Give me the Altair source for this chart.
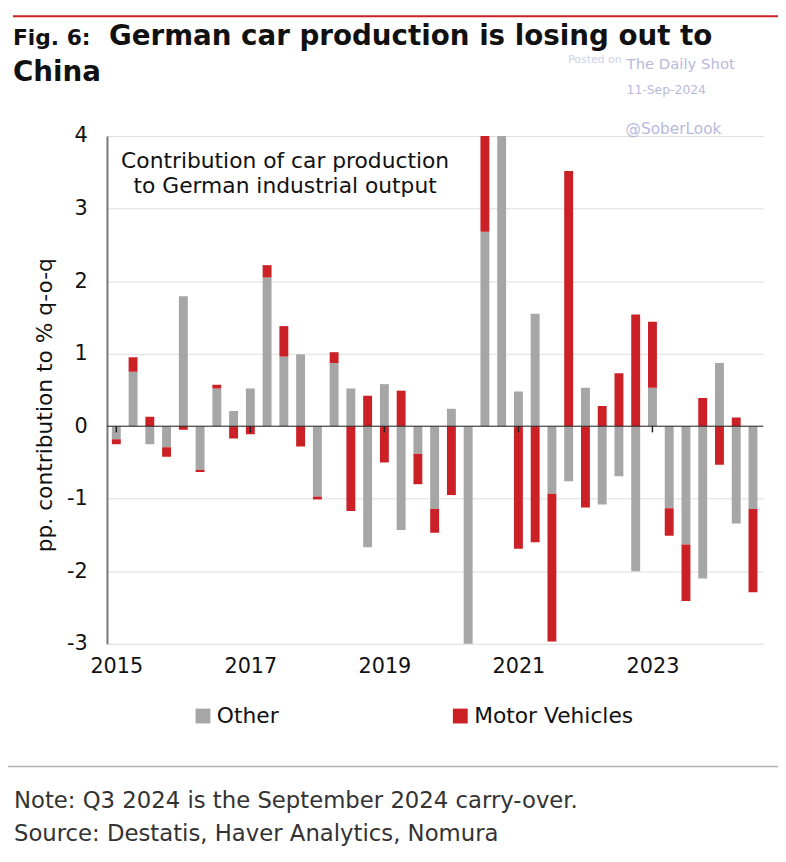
import altair as alt
import pandas as pd

# ---------------- data ----------------
years = [2015, 2016, 2017, 2018, 2019, 2020, 2021, 2022, 2023, 2024]
quarters_per_year = [4, 4, 4, 4, 4, 4, 4, 4, 4, 3]

other = [-0.18, 0.75, -0.25, -0.29,
         1.79, -0.60, 0.52, 0.21,
         0.52, 2.05, 0.96, 0.99,
         -0.97, 0.87, 0.52, -1.67,
         0.58, -1.43, -0.38, -1.14,
         0.24, -3.40, 2.68, 4.60,
         0.48, 1.55, -0.93, -0.76,
         0.53, -1.08, -0.69, -2.00,
         0.53, -1.13, -1.63, -2.10,
         0.87, -1.34, -1.14]

motor = [-0.07, 0.20, 0.13, -0.13,
         -0.05, -0.03, 0.05, -0.17,
         -0.11, 0.17, 0.42, -0.28,
         -0.04, 0.15, -1.17, 0.42,
         -0.50, 0.49, -0.42, -0.33,
         -0.95, -2.50, 3.00, 0.20,
         -1.69, -1.60, -2.04, 3.52,
         -1.12, 0.28, 0.73, 1.54,
         0.91, -0.38, -0.78, 0.39,
         -0.53, 0.12, -1.15]

series_names = ["Other", "Motor Vehicles"]
series_colors = ["#a6a6a6", "#cc2027"]
x_tick_years = [2015, 2017, 2019, 2021, 2023]
y_ticks = [-3, -2, -1, 0, 1, 2, 3, 4]

FONT = "DejaVu Sans"

# quarter positions (year + fraction)
t = []
for y, nq in zip(years, quarters_per_year):
    for q in range(nq):
        t.append(y + q / 4)

rows = []
for i, ti in enumerate(t):
    rows.append({"t": ti, "series": "Other", "value": other[i], "ord": 0})
    rows.append({"t": ti, "series": "Motor Vehicles", "value": motor[i], "ord": 1})
df = pd.DataFrame(rows)

one = pd.DataFrame({"k": [0]})

bars = alt.Chart(df).mark_bar(size=9, clip=True).encode(
    x=alt.X("t:Q",
            scale=alt.Scale(domain=[2014.9345, 2024.578], nice=False, zero=False),
            axis=alt.Axis(values=x_tick_years, format="d", title=None, domain=False,
                          ticks=False, grid=False, labelFontSize=21, labelPadding=12,
                          labelFont=FONT, labelColor="#111")),
    y=alt.Y("value:Q", stack="zero",
            scale=alt.Scale(domain=[-3, 4], nice=False, zero=False),
            axis=alt.Axis(values=y_ticks, title=None, grid=True, gridColor="#dedede",
                          gridWidth=1, domainColor="#777777", domainWidth=2,
                          ticks=False, labelPadding=20, labelFontSize=21,
                          labelFont=FONT, labelColor="#111",
                          labelExpr="'' + datum.value")),
    color=alt.Color("series:N",
                    scale=alt.Scale(domain=series_names, range=series_colors),
                    legend=alt.Legend(orient="none", legendX=86, legendY=575,
                                      direction="horizontal", title=None,
                                      symbolType="square", symbolSize=225,
                                      symbolStrokeWidth=0, labelFontSize=22,
                                      labelFont=FONT, labelColor="#111",
                                      labelLimit=400,
                                      columnPadding=172, labelOffset=3, padding=0)),
    order=alt.Order("ord:Q"),
)

zero_line = alt.Chart(one).mark_rule(color="#222222", strokeWidth=1).encode(
    y=alt.datum(0)
)

tick_df = pd.DataFrame({"t": x_tick_years})
year_ticks = alt.Chart(tick_df).mark_rule(color="#222222", strokeWidth=1.5).encode(
    x="t:Q", y=alt.datum(0), y2=alt.datum(-0.085)
)


def txt(s, x, y, size, color="#111111", bold=False, align="left", angle=0,
        baseline="alphabetic"):
    return alt.Chart(pd.DataFrame({"label": [s]})).mark_text(
        align=align, baseline=baseline, fontSize=size, font=FONT,
        fontWeight="bold" if bold else "normal", color=color, angle=angle
    ).encode(x=alt.value(x), y=alt.value(y), text="label:N")


red_top = alt.Chart(one).mark_rule(color="#cc2027", strokeWidth=2).encode(
    x=alt.value(-95), x2=alt.value(678), y=alt.value(-121)
)
separator = alt.Chart(one).mark_rule(color="#b0b0b0", strokeWidth=1.5).encode(
    x=alt.value(-100), x2=alt.value(678), y=alt.value(637)
)

wm = "#b9b9dc"
layers = [
    red_top,
    txt("Posted on", 466, -74, 11, color="#d0d0e6"),
    txt("Fig. 6:", -95, -92, 22, bold=True),
    txt("German car production is losing out to", 2, -92, 28, bold=True),
    txt("China", -95, -56, 28, bold=True),
    txt("The Daily Shot", 525, -68, 15, color=wm),
    txt("11-Sep-2024", 525, -43, 12.5, color=wm),
    txt("@SoberLook", 524, -2, 15.5, color=wm),
    bars,
    zero_line,
    year_ticks,
    txt("Contribution of car production", 180, 32, 22, align="center"),
    txt("to German industrial output", 180, 58, 22, align="center"),
    txt("pp. contribution to % q-o-q", -63, 272, 22, align="center", angle=270,
        baseline="middle"),
    separator,
    txt("Note: Q3 2024 is the September 2024 carry-over.", -94, 679, 23, color="#333333"),
    txt("Source: Destatis, Haver Analytics, Nomura", -94, 712, 23, color="#333333"),
]

chart = alt.layer(*layers).properties(
    width=663,
    height=513,
    autosize=alt.AutoSizeParams(type="none"),
    padding={"left": 100, "top": 125, "right": 15, "bottom": 208},
    background="white",
).configure_view(stroke=None)

chart.save("out.html", embed_options={"renderer": "svg", "actions": False})
